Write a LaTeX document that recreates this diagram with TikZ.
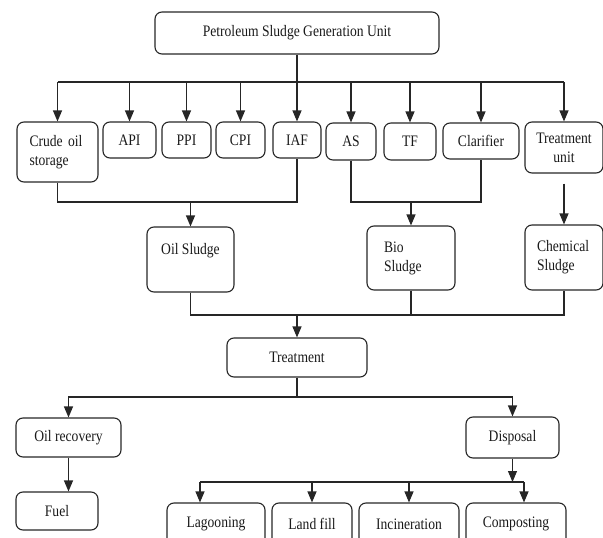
\documentclass[tikz,border=0pt]{standalone}
\usepackage{fontspec}
\setmainfont{Liberation Serif}[FakeStretch=0.85]
\usetikzlibrary{arrows.meta}

\begin{document}
\begin{tikzpicture}[x=1pt, y=-1pt,
  unit/.style={draw=black!85, line width=1.1pt, rounded corners=7pt, inner sep=2pt,
    font=\fontsize{16}{19}\selectfont, text=black!90},
  sludge/.style={unit, minimum width=88, minimum height=65, text width=54, align=left},
  link/.style={draw=black!85, line width=1.1pt},
  >={Triangle[length=11pt, width=9pt]}]
\useasboundingbox (0,0) rectangle (603,538);
\clip (0,0) rectangle (603,538);
\node[unit, minimum width=284, minimum height=42] (gen) at (297,33) {Petroleum Sludge Generation Unit};
\node[unit, minimum width=81, minimum height=60, text width=56, align=left] (crude) at (57.5,152) {Crude oil\\storage};
\node[unit, minimum width=53, minimum height=36] (api) at (129.5,140) {API};
\node[unit, minimum width=49, minimum height=36] (ppi) at (186.5,140) {PPI};
\node[unit, minimum width=49, minimum height=36] (cpi) at (240.5,140) {CPI};
\node[unit, minimum width=48, minimum height=36] (iaf) at (297,140) {IAF};
\node[unit, minimum width=50, minimum height=37] (as) at (351,141.5) {AS};
\node[unit, minimum width=52, minimum height=37] (tf) at (410,141.5) {TF};
\node[unit, minimum width=76, minimum height=36] (clar) at (481,141) {Clarifier};
\node[unit, minimum width=78, minimum height=51, align=center] (tunit) at (564,147.5) {Treatment\\unit};
\node[unit, minimum width=87, text height=11, text depth=22, inner ysep=16] (oil) at (190.5,259.5) {Oil Sludge};
\node[sludge, minimum height=64] (bio) at (411,258) {Bio\\Sludge};
\node[sludge, minimum width=78] (chem) at (564,257.5) {Chemical\\Sludge};
\node[unit, minimum width=140, minimum height=39] (treat) at (297,357.5) {Treatment};
\node[unit, minimum width=105, minimum height=39] (orec) at (68.5,437.5) {Oil recovery};
\node[unit, minimum width=82, minimum height=38] (fuel) at (57,511) {Fuel};
\node[unit, minimum width=93, minimum height=41] (disp) at (512.5,437.5) {Disposal};
\node[unit, minimum width=98, minimum height=42] (lag) at (216,524) {Lagooning};
\node[unit, minimum width=80, minimum height=42] (land) at (312,524) {Land fill};
\node[unit, minimum width=100, minimum height=42] (inc) at (409,524) {Incineration};
\node[unit, minimum width=100, minimum height=42] (comp) at (516,524) {Composting};
\coordinate (b1) at (0,82);
\coordinate (b2) at (0,202);
\coordinate (b3) at (0,315);
\coordinate (b4) at (0,397);
\coordinate (b5) at (0,482);
\coordinate (l5) at (200,482);
\coordinate (r5) at (524,482);
\draw[link] (gen.south) -- (gen.south |- b1);
\draw[link] (crude.north |- b1) -- (tunit.north |- b1);
\foreach \n in {crude,api,ppi,cpi,iaf,as,tf,clar,tunit}
  \draw[link, ->] (\n.north |- b1) -- (\n.north);
\draw[link] (crude.south) |- (iaf.south |- b2) -- (iaf.south);
\draw[link, ->] (oil.north |- b2) -- (oil.north);
\draw[link] (as.south) |- (clar.south |- b2) -- (clar.south);
\draw[link, ->] (bio.north |- b2) -- (bio.north);
\draw[link, ->, shorten <=10pt] (tunit.south) -- (chem.north);
\draw[link] (oil.south) |- (chem.south |- b3) -- (chem.south);
\draw[link] (bio.south) -- (bio.south |- b3);
\draw[link, ->] (treat.north |- b3) -- (treat.north);
\draw[link] (treat.south) -- (treat.south |- b4);
\draw[link, ->] (treat.south |- b4) -| (orec.north);
\draw[link, ->] (treat.south |- b4) -| (disp.north);
\draw[link, ->] (orec.south) -- (orec.south |- fuel.north);
\draw[link, ->] (disp.south) -- (disp.south |- b5);
\draw[link] (l5) -- (r5);
\draw[link, ->] (l5) -- (l5 |- lag.north);
\draw[link, ->] (land.north |- b5) -- (land.north);
\draw[link, ->] (inc.north |- b5) -- (inc.north);
\draw[link, ->] (r5) -- (r5 |- comp.north);
\end{tikzpicture}
\end{document}
